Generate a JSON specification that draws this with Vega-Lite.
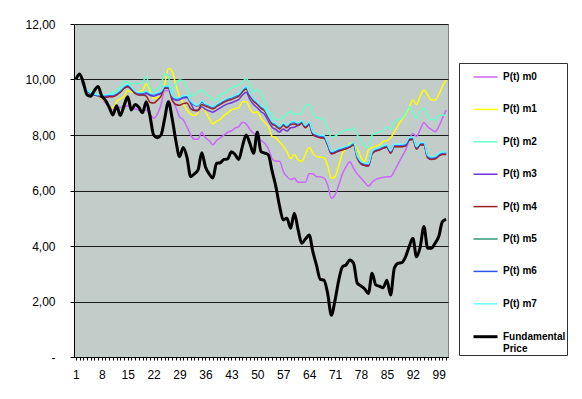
{
"$schema":"https://vega.github.io/schema/vega-lite/v6.json",
"width":374,"height":333,
"autosize":{"type":"none"},
"padding":{"left":74,"top":24,"right":134,"bottom":42},
"background":"white",
"config":{"font":"Liberation Sans","view":{"stroke":"#808080","strokeWidth":1,"fill":"#C2CCC8"}},
"data":{"values":[
{"t":1,"F":10.0,"m0":10.0,"m1":10.0,"m2":10.0,"m3":10.0,"m4":10.0,"m5":10.0,"m6":10.0,"m7":10.0},
{"t":2,"F":10.2,"m0":10.2,"m1":10.2,"m2":10.2,"m3":10.2,"m4":10.2,"m5":10.2,"m6":10.2,"m7":10.2},
{"t":3,"F":9.9,"m0":9.8,"m1":9.8,"m2":9.8,"m3":9.8,"m4":9.8,"m5":9.81,"m6":9.8,"m7":9.83},
{"t":4,"F":9.45,"m0":9.6,"m1":9.6,"m2":9.6,"m3":9.6,"m4":9.6,"m5":9.61,"m6":9.6,"m7":9.63},
{"t":5,"F":9.4,"m0":9.5,"m1":9.5,"m2":9.5,"m3":9.5,"m4":9.5,"m5":9.51,"m6":9.5,"m7":9.53},
{"t":6,"F":9.6,"m0":9.45,"m1":9.45,"m2":9.45,"m3":9.45,"m4":9.45,"m5":9.46,"m6":9.45,"m7":9.48},
{"t":7,"F":9.75,"m0":9.42,"m1":9.42,"m2":9.42,"m3":9.42,"m4":9.42,"m5":9.43,"m6":9.42,"m7":9.45},
{"t":8,"F":9.4,"m0":9.3,"m1":9.3,"m2":9.42,"m3":9.37,"m4":9.36,"m5":9.43,"m6":9.42,"m7":9.45},
{"t":9,"F":9.25,"m0":9.15,"m1":9.2,"m2":9.42,"m3":9.37,"m4":9.36,"m5":9.43,"m6":9.42,"m7":9.45},
{"t":10,"F":9.0,"m0":9.0,"m1":9.05,"m2":9.46,"m3":9.39,"m4":9.38,"m5":9.45,"m6":9.44,"m7":9.47},
{"t":11,"F":8.72,"m0":8.95,"m1":8.96,"m2":9.55,"m3":9.39,"m4":9.38,"m5":9.45,"m6":9.44,"m7":9.47},
{"t":12,"F":9.05,"m0":8.95,"m1":9.2,"m2":9.62,"m3":9.45,"m4":9.44,"m5":9.51,"m6":9.5,"m7":9.53},
{"t":13,"F":8.7,"m0":9.0,"m1":9.3,"m2":9.75,"m3":9.55,"m4":9.54,"m5":9.61,"m6":9.6,"m7":9.63},
{"t":14,"F":9.05,"m0":9.0,"m1":9.4,"m2":9.92,"m3":9.69,"m4":9.68,"m5":9.75,"m6":9.74,"m7":9.77},
{"t":15,"F":9.38,"m0":9.05,"m1":9.6,"m2":9.9,"m3":9.75,"m4":9.74,"m5":9.81,"m6":9.8,"m7":9.83},
{"t":16,"F":8.9,"m0":8.95,"m1":9.55,"m2":9.86,"m3":9.65,"m4":9.64,"m5":9.71,"m6":9.7,"m7":9.73},
{"t":17,"F":9.1,"m0":8.95,"m1":9.55,"m2":9.86,"m3":9.51,"m4":9.5,"m5":9.57,"m6":9.56,"m7":9.59},
{"t":18,"F":9.0,"m0":8.9,"m1":9.56,"m2":9.86,"m3":9.45,"m4":9.44,"m5":9.51,"m6":9.5,"m7":9.53},
{"t":19,"F":8.8,"m0":8.9,"m1":9.6,"m2":9.9,"m3":9.45,"m4":9.44,"m5":9.51,"m6":9.5,"m7":9.53},
{"t":20,"F":9.2,"m0":8.9,"m1":9.85,"m2":10.1,"m3":9.5,"m4":9.4,"m5":9.56,"m6":9.55,"m7":9.58},
{"t":21,"F":8.7,"m0":8.75,"m1":9.6,"m2":9.7,"m3":9.43,"m4":9.18,"m5":9.49,"m6":9.48,"m7":9.51},
{"t":22,"F":8.0,"m0":8.6,"m1":9.32,"m2":9.6,"m3":9.4,"m4":9.15,"m5":9.46,"m6":9.45,"m7":9.48},
{"t":23,"F":7.9,"m0":8.75,"m1":9.35,"m2":9.68,"m3":9.45,"m4":9.25,"m5":9.51,"m6":9.5,"m7":9.53},
{"t":24,"F":8.0,"m0":9.1,"m1":9.4,"m2":9.8,"m3":9.5,"m4":9.4,"m5":9.56,"m6":9.55,"m7":9.58},
{"t":25,"F":8.6,"m0":9.6,"m1":9.85,"m2":10.22,"m3":9.69,"m4":9.69,"m5":9.75,"m6":9.74,"m7":9.77},
{"t":26,"F":9.2,"m0":9.6,"m1":10.4,"m2":10.1,"m3":9.69,"m4":9.69,"m5":9.75,"m6":9.74,"m7":9.77},
{"t":27,"F":8.6,"m0":9.3,"m1":10.3,"m2":9.5,"m3":9.35,"m4":9.25,"m5":9.41,"m6":9.4,"m7":9.43},
{"t":28,"F":7.8,"m0":9.0,"m1":9.8,"m2":9.85,"m3":9.25,"m4":9.1,"m5":9.31,"m6":9.3,"m7":9.33},
{"t":29,"F":7.22,"m0":8.66,"m1":9.4,"m2":9.98,"m3":9.27,"m4":9.07,"m5":9.33,"m6":9.32,"m7":9.35},
{"t":30,"F":7.55,"m0":8.55,"m1":9.14,"m2":9.95,"m3":9.33,"m4":9.13,"m5":9.39,"m6":9.38,"m7":9.41},
{"t":31,"F":7.2,"m0":8.3,"m1":8.9,"m2":9.7,"m3":9.35,"m4":9.15,"m5":9.41,"m6":9.4,"m7":9.43},
{"t":32,"F":6.5,"m0":8.0,"m1":8.75,"m2":9.4,"m3":9.15,"m4":8.95,"m5":9.21,"m6":9.2,"m7":9.23},
{"t":33,"F":6.6,"m0":7.85,"m1":8.7,"m2":9.45,"m3":8.9,"m4":8.88,"m5":9.09,"m6":9.08,"m7":9.11},
{"t":34,"F":6.74,"m0":7.85,"m1":8.8,"m2":9.55,"m3":8.87,"m4":8.9,"m5":9.06,"m6":9.05,"m7":9.08},
{"t":35,"F":7.36,"m0":8.1,"m1":9.0,"m2":9.62,"m3":9.02,"m4":9.1,"m5":9.21,"m6":9.2,"m7":9.23},
{"t":36,"F":6.85,"m0":7.9,"m1":8.85,"m2":9.5,"m3":8.92,"m4":9.04,"m5":9.11,"m6":9.1,"m7":9.13},
{"t":37,"F":6.6,"m0":7.8,"m1":8.6,"m2":9.4,"m3":8.87,"m4":8.99,"m5":9.06,"m6":9.05,"m7":9.08},
{"t":38,"F":6.45,"m0":7.65,"m1":8.4,"m2":9.25,"m3":8.82,"m4":8.94,"m5":9.01,"m6":9.0,"m7":9.03},
{"t":39,"F":6.98,"m0":7.8,"m1":8.5,"m2":9.3,"m3":8.9,"m4":9.02,"m5":9.09,"m6":9.08,"m7":9.11},
{"t":40,"F":7.0,"m0":7.9,"m1":8.56,"m2":9.44,"m3":8.98,"m4":9.1,"m5":9.17,"m6":9.16,"m7":9.19},
{"t":41,"F":7.12,"m0":8.0,"m1":8.7,"m2":9.5,"m3":9.06,"m4":9.18,"m5":9.25,"m6":9.24,"m7":9.27},
{"t":42,"F":7.14,"m0":8.1,"m1":8.8,"m2":9.6,"m3":9.12,"m4":9.24,"m5":9.31,"m6":9.3,"m7":9.33},
{"t":43,"F":7.4,"m0":8.15,"m1":8.9,"m2":9.7,"m3":9.16,"m4":9.28,"m5":9.35,"m6":9.34,"m7":9.37},
{"t":44,"F":7.3,"m0":8.25,"m1":8.95,"m2":9.75,"m3":9.22,"m4":9.34,"m5":9.41,"m6":9.4,"m7":9.43},
{"t":45,"F":7.12,"m0":8.3,"m1":8.98,"m2":9.8,"m3":9.28,"m4":9.4,"m5":9.47,"m6":9.46,"m7":9.49},
{"t":46,"F":7.6,"m0":8.46,"m1":9.2,"m2":9.9,"m3":9.44,"m4":9.56,"m5":9.63,"m6":9.62,"m7":9.65},
{"t":47,"F":8.0,"m0":8.4,"m1":9.2,"m2":10.04,"m3":9.54,"m4":9.66,"m5":9.73,"m6":9.72,"m7":9.75},
{"t":48,"F":7.7,"m0":8.2,"m1":8.96,"m2":9.8,"m3":9.28,"m4":9.4,"m5":9.47,"m6":9.46,"m7":9.49},
{"t":49,"F":7.34,"m0":8.06,"m1":8.8,"m2":9.55,"m3":9.1,"m4":9.22,"m5":9.29,"m6":9.28,"m7":9.31},
{"t":50,"F":8.1,"m0":7.94,"m1":8.84,"m2":9.65,"m3":8.98,"m4":9.1,"m5":9.17,"m6":9.16,"m7":9.19},
{"t":51,"F":7.4,"m0":7.8,"m1":8.6,"m2":9.5,"m3":8.84,"m4":8.96,"m5":9.03,"m6":9.02,"m7":9.05},
{"t":52,"F":7.35,"m0":7.7,"m1":8.45,"m2":9.2,"m3":8.74,"m4":8.86,"m5":8.93,"m6":8.92,"m7":8.95},
{"t":53,"F":7.28,"m0":7.5,"m1":8.3,"m2":8.85,"m3":8.5,"m4":8.62,"m5":8.69,"m6":8.68,"m7":8.71},
{"t":54,"F":6.7,"m0":7.15,"m1":7.95,"m2":8.75,"m3":8.28,"m4":8.4,"m5":8.47,"m6":8.46,"m7":8.49},
{"t":55,"F":6.15,"m0":7.05,"m1":7.9,"m2":8.55,"m3":8.2,"m4":8.32,"m5":8.39,"m6":8.38,"m7":8.41},
{"t":56,"F":5.45,"m0":7.05,"m1":7.75,"m2":8.55,"m3":8.1,"m4":8.22,"m5":8.29,"m6":8.28,"m7":8.31},
{"t":57,"F":4.94,"m0":6.7,"m1":7.6,"m2":8.65,"m3":8.22,"m4":8.34,"m5":8.41,"m6":8.4,"m7":8.43},
{"t":58,"F":5.0,"m0":6.5,"m1":7.4,"m2":8.75,"m3":8.14,"m4":8.26,"m5":8.33,"m6":8.32,"m7":8.35},
{"t":59,"F":4.64,"m0":6.4,"m1":7.15,"m2":8.85,"m3":8.26,"m4":8.38,"m5":8.45,"m6":8.44,"m7":8.47},
{"t":60,"F":5.18,"m0":6.44,"m1":7.3,"m2":8.75,"m3":8.28,"m4":8.4,"m5":8.47,"m6":8.46,"m7":8.49},
{"t":61,"F":4.6,"m0":6.3,"m1":7.1,"m2":8.75,"m3":8.35,"m4":8.34,"m5":8.41,"m6":8.4,"m7":8.43},
{"t":62,"F":4.1,"m0":6.3,"m1":7.05,"m2":8.8,"m3":8.43,"m4":8.42,"m5":8.49,"m6":8.48,"m7":8.51},
{"t":63,"F":4.25,"m0":6.3,"m1":7.3,"m2":9.05,"m3":8.27,"m4":8.26,"m5":8.33,"m6":8.32,"m7":8.35},
{"t":64,"F":4.4,"m0":6.6,"m1":7.55,"m2":9.1,"m3":8.39,"m4":8.38,"m5":8.45,"m6":8.44,"m7":8.47},
{"t":65,"F":3.8,"m0":6.6,"m1":7.35,"m2":8.75,"m3":8.03,"m4":8.02,"m5":8.09,"m6":8.08,"m7":8.11},
{"t":66,"F":3.3,"m0":6.5,"m1":7.22,"m2":8.62,"m3":7.95,"m4":7.94,"m5":8.01,"m6":8.0,"m7":8.03},
{"t":67,"F":2.8,"m0":6.5,"m1":7.2,"m2":8.6,"m3":7.91,"m4":7.9,"m5":7.97,"m6":7.96,"m7":7.99},
{"t":68,"F":2.77,"m0":6.45,"m1":7.18,"m2":8.55,"m3":7.9,"m4":7.89,"m5":7.96,"m6":7.95,"m7":7.98},
{"t":69,"F":2.29,"m0":6.2,"m1":6.9,"m2":8.2,"m3":7.65,"m4":7.64,"m5":7.71,"m6":7.7,"m7":7.73},
{"t":70,"F":1.51,"m0":5.72,"m1":6.44,"m2":7.94,"m3":7.33,"m4":7.32,"m5":7.39,"m6":7.38,"m7":7.41},
{"t":71,"F":2.05,"m0":5.84,"m1":6.5,"m2":7.96,"m3":7.37,"m4":7.36,"m5":7.43,"m6":7.42,"m7":7.45},
{"t":72,"F":2.77,"m0":6.2,"m1":6.9,"m2":8.05,"m3":7.43,"m4":7.42,"m5":7.49,"m6":7.48,"m7":7.51},
{"t":73,"F":3.25,"m0":6.6,"m1":7.35,"m2":8.15,"m3":7.47,"m4":7.46,"m5":7.53,"m6":7.52,"m7":7.55},
{"t":74,"F":3.32,"m0":6.86,"m1":7.5,"m2":8.18,"m3":7.51,"m4":7.5,"m5":7.57,"m6":7.56,"m7":7.59},
{"t":75,"F":3.5,"m0":7.04,"m1":7.7,"m2":8.2,"m3":7.57,"m4":7.56,"m5":7.63,"m6":7.62,"m7":7.65},
{"t":76,"F":3.38,"m0":6.8,"m1":7.7,"m2":8.24,"m3":7.65,"m4":7.64,"m5":7.71,"m6":7.7,"m7":7.73},
{"t":77,"F":2.66,"m0":6.6,"m1":7.5,"m2":8.0,"m3":7.17,"m4":7.16,"m5":7.23,"m6":7.22,"m7":7.25},
{"t":78,"F":2.56,"m0":6.45,"m1":7.2,"m2":7.82,"m3":6.97,"m4":6.96,"m5":7.03,"m6":7.02,"m7":7.05},
{"t":79,"F":2.45,"m0":6.3,"m1":7.04,"m2":7.6,"m3":6.91,"m4":6.9,"m5":6.97,"m6":6.96,"m7":6.99},
{"t":80,"F":2.29,"m0":6.15,"m1":7.46,"m2":7.55,"m3":6.89,"m4":6.88,"m5":6.95,"m6":6.94,"m7":6.97},
{"t":81,"F":3.02,"m0":6.3,"m1":7.55,"m2":8.0,"m3":7.33,"m4":7.32,"m5":7.39,"m6":7.38,"m7":7.41},
{"t":82,"F":2.6,"m0":6.4,"m1":7.6,"m2":8.06,"m3":7.43,"m4":7.42,"m5":7.49,"m6":7.48,"m7":7.51},
{"t":83,"F":2.55,"m0":6.44,"m1":7.65,"m2":8.12,"m3":7.47,"m4":7.46,"m5":7.53,"m6":7.52,"m7":7.55},
{"t":84,"F":2.5,"m0":6.48,"m1":7.76,"m2":8.15,"m3":7.53,"m4":7.52,"m5":7.59,"m6":7.58,"m7":7.61},
{"t":85,"F":2.77,"m0":6.5,"m1":7.8,"m2":8.3,"m3":7.57,"m4":7.56,"m5":7.63,"m6":7.62,"m7":7.65},
{"t":86,"F":2.23,"m0":6.5,"m1":7.9,"m2":8.2,"m3":7.35,"m4":7.34,"m5":7.41,"m6":7.4,"m7":7.43},
{"t":87,"F":3.2,"m0":6.7,"m1":8.1,"m2":8.45,"m3":7.59,"m4":7.58,"m5":7.65,"m6":7.64,"m7":7.67},
{"t":88,"F":3.38,"m0":6.95,"m1":8.35,"m2":8.55,"m3":7.59,"m4":7.58,"m5":7.65,"m6":7.64,"m7":7.67},
{"t":89,"F":3.4,"m0":7.2,"m1":8.55,"m2":8.6,"m3":7.59,"m4":7.58,"m5":7.65,"m6":7.64,"m7":7.67},
{"t":90,"F":3.6,"m0":7.45,"m1":8.75,"m2":8.8,"m3":7.61,"m4":7.6,"m5":7.67,"m6":7.66,"m7":7.69},
{"t":91,"F":3.97,"m0":7.8,"m1":9.0,"m2":9.02,"m3":7.83,"m4":7.82,"m5":7.89,"m6":7.88,"m7":7.91},
{"t":92,"F":4.28,"m0":8.05,"m1":9.26,"m2":8.8,"m3":7.85,"m4":7.84,"m5":7.91,"m6":7.9,"m7":7.93},
{"t":93,"F":3.61,"m0":7.95,"m1":9.1,"m2":8.6,"m3":7.5,"m4":7.49,"m5":7.56,"m6":7.55,"m7":7.58},
{"t":94,"F":3.97,"m0":8.2,"m1":9.4,"m2":8.85,"m3":7.65,"m4":7.64,"m5":7.71,"m6":7.7,"m7":7.73},
{"t":95,"F":4.7,"m0":8.45,"m1":9.62,"m2":8.96,"m3":7.65,"m4":7.64,"m5":7.71,"m6":7.7,"m7":7.73},
{"t":96,"F":3.92,"m0":8.3,"m1":9.45,"m2":8.7,"m3":7.19,"m4":7.18,"m5":7.25,"m6":7.24,"m7":7.27},
{"t":97,"F":3.92,"m0":8.2,"m1":9.26,"m2":8.55,"m3":7.13,"m4":7.12,"m5":7.19,"m6":7.18,"m7":7.21},
{"t":98,"F":4.1,"m0":8.12,"m1":9.26,"m2":8.55,"m3":7.15,"m4":7.14,"m5":7.21,"m6":7.2,"m7":7.23},
{"t":99,"F":4.34,"m0":8.3,"m1":9.45,"m2":8.7,"m3":7.25,"m4":7.24,"m5":7.31,"m6":7.3,"m7":7.33},
{"t":100,"F":4.88,"m0":8.6,"m1":9.75,"m2":8.72,"m3":7.31,"m4":7.3,"m5":7.37,"m6":7.36,"m7":7.39},
{"t":101,"F":4.96,"m0":8.9,"m1":9.98,"m2":8.7,"m3":7.31,"m4":7.3,"m5":7.37,"m6":7.36,"m7":7.39}
]},
"transform":[{"fold":["m0","m1","m2","m3","m4","m5","m6","m7","F"],"as":["series","value"]}],
"mark":{"type":"line","interpolate":"monotone"},
"encoding":{
"x":{"field":"t","type":"ordinal","scale":{"type":"point","padding":0.5},
"axis":{"title":null,"labelAngle":0,"labelOverlap":false,"labelExpr":"(datum.value - 1) % 7 == 0 ? datum.label : ''","labelFontSize":12,"labelColor":"#000","labelPadding":9,"tickSize":3,"tickColor":"#000","domainColor":"#000","grid":false}},
"y":{"field":"value","type":"quantitative","scale":{"domain":[0,12],"nice":false,"zero":true},
"axis":{"title":null,"values":[0,2,4,6,8,10,12],"labelExpr":"datum.value == 0 ? '-\u00a0\u00a0\u00a0' : replace(format(datum.value, '.2f'), '.', ',')","labelFontSize":12,"labelColor":"#000","labelPadding":15,"tickSize":4,"tickColor":"#000","domainColor":"#000","grid":true,"gridColor":"#1a1a1a","gridWidth":1}},
"color":{"field":"series","type":"nominal",
"scale":{"domain":["m0","m1","m2","m3","m4","m5","m6","m7","F"],"range":["#CC66FF","#FFFF00","#66FFCC","#7033DD","#992222","#339977","#3355EE","#66FFFF","#000000"]},
"legend":{"title":null,"orient":"none","legendX":385,"legendY":39,"fillColor":"white","strokeColor":"#333","padding":1,"symbolType":"stroke","symbolSize":576,"symbolOffset":12,"labelOffset":4,"labelFontSize":10,"labelFontWeight":"bold","labelColor":"#000","rowPadding":14.4,"labelExpr":"datum.value == 'F' ? ['Fundamental\u00a0\u00a0\u00a0\u00a0\u00a0\u00a0','Price'] : 'P(t) ' + datum.value"}},
"strokeWidth":{"field":"series","type":"nominal",
"scale":{"type":"ordinal","domain":["m0","m1","m2","m3","m4","m5","m6","m7","F"],"range":[1.5,1.5,1.5,1.5,1.5,1.5,1.5,1.5,3]},
"legend":{"title":null,"orient":"none","legendX":385,"legendY":39,"fillColor":"white","strokeColor":"#333","padding":1,"symbolType":"stroke","symbolSize":576,"symbolOffset":12,"labelOffset":4,"labelFontSize":10,"labelFontWeight":"bold","labelColor":"#000","rowPadding":14.4,"labelExpr":"datum.value == 'F' ? ['Fundamental\u00a0\u00a0\u00a0\u00a0\u00a0\u00a0','Price'] : 'P(t) ' + datum.value"}}
}
}
